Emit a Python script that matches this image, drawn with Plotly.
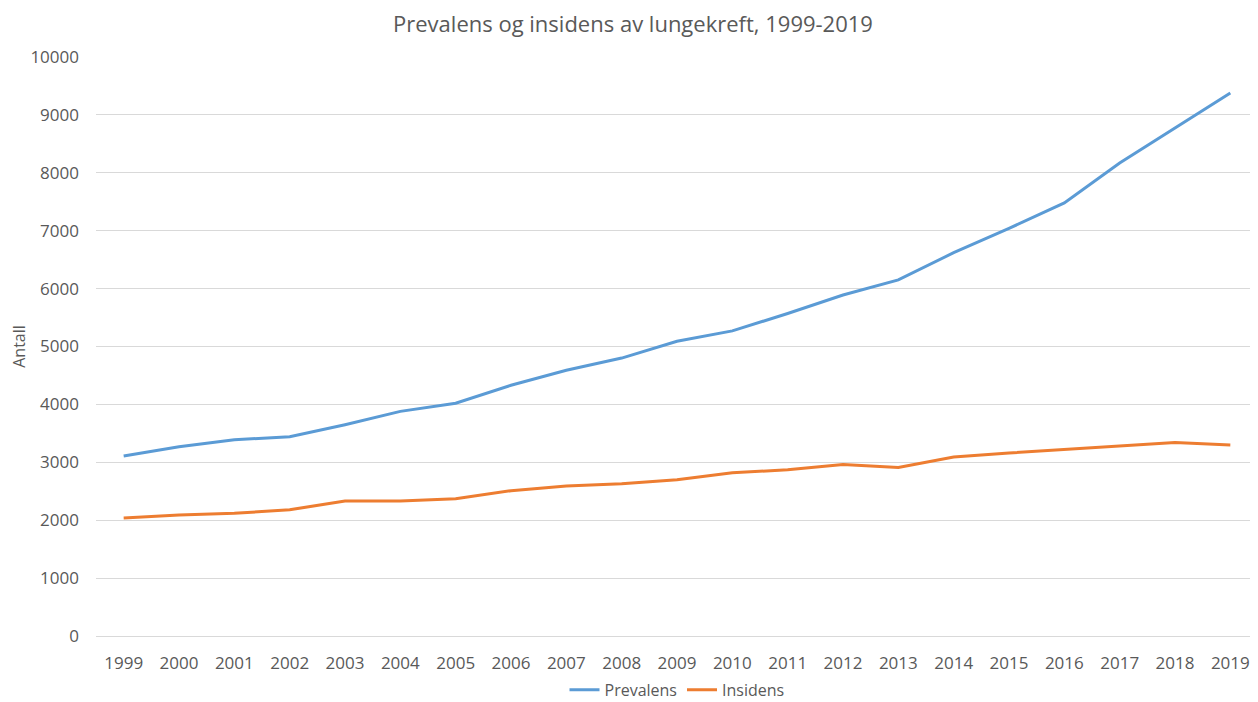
import plotly.graph_objects as go

years = [str(y) for y in range(1999, 2020)]
prevalens = [3110, 3270, 3390, 3440, 3650, 3880, 4020, 4330, 4590, 4800, 5090,
             5270, 5570, 5890, 6150, 6620, 7040, 7480, 8170, 8780, 9380]
insidens = [2040, 2090, 2120, 2180, 2330, 2330, 2370, 2510, 2590, 2630, 2700,
            2820, 2870, 2960, 2910, 3090, 3160, 3220, 3290, 3340, 3300]
y_ticks = list(range(0, 10001, 1000))

font = "'Open Sans', sans-serif"
grey = "#595959"

fig = go.Figure()
fig.add_trace(go.Scatter(x=years, y=prevalens, mode="lines", name="Prevalens",
                         line=dict(color="#5B9BD5", width=3)))
fig.add_trace(go.Scatter(x=years, y=insidens, mode="lines", name="Insidens",
                         line=dict(color="#ED7D31", width=3)))

# the page body has an 8px margin, so the figure is sized to fit what is left
fig.update_layout(
    width=1250,
    height=694,
    paper_bgcolor="white",
    plot_bgcolor="white",
    margin=dict(l=88, r=0, t=49, b=66, autoexpand=False),
    font=dict(family=font, size=17, color=grey),
    title=dict(text="Prevalens og insidens av lungekreft, 1999-2019",
               x=0.5, xanchor="center", y=0.977, yanchor="middle",
               font=dict(size=22, color=grey)),
    legend=dict(orientation="h", x=0.5, xanchor="center", y=-0.093, yanchor="middle",
                font=dict(size=16, color=grey), itemwidth=30),
    showlegend=True,
)
fig.update_xaxes(type="category", range=[-0.5, 20.5], showgrid=False,
                 showline=True, linecolor="#D9D9D9", linewidth=1,
                 ticks="", ticklabelstandoff=12)
fig.update_yaxes(range=[0, 10000], tickvals=y_ticks, tickformat="d",
                 showgrid=True, gridcolor="#D9D9D9", gridwidth=1, zeroline=False,
                 ticks="", ticklabelstandoff=16,
                 title=dict(text="Antall", font=dict(size=16, color=grey), standoff=8))

fig.write_html("out.html")
